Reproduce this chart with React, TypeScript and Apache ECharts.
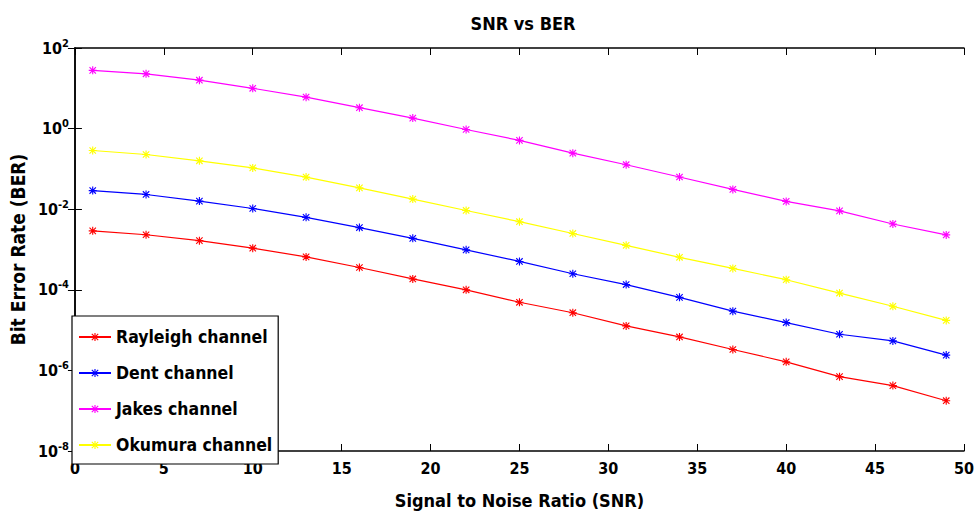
import React, { useEffect, useRef } from "react";
import * as echarts from "echarts";

const snr = [1, 4, 7, 10, 13, 16, 19, 22, 25, 28, 31, 34, 37, 40, 43, 46, 49];
const rayleigh = [0.0029, 0.00232, 0.00166, 0.00108, 0.000656, 0.000358, 0.000186, 0.0001, 4.9e-5, 2.7e-5, 1.27e-5, 6.76e-6, 3.3e-6, 1.63e-6, 7.0e-7, 4.2e-7, 1.77e-7];
const dent = [0.029, 0.0232, 0.0159, 0.0104, 0.00628, 0.0035, 0.00189, 0.00098, 0.000505, 0.00025, 0.000135, 6.5e-5, 2.95e-5, 1.54e-5, 7.9e-6, 5.4e-6, 2.4e-6];
const jakes = [27.9, 22.9, 15.9, 10, 6.03, 3.3, 1.82, 0.95, 0.51, 0.246, 0.127, 0.063, 0.031, 0.0156, 0.0091, 0.0043, 0.0023];
const okumura = [0.286, 0.228, 0.159, 0.106, 0.0628, 0.0338, 0.0178, 0.0093, 0.0049, 0.0025, 0.00127, 0.00064, 0.00034, 0.000178, 8.3e-5, 3.9e-5, 1.74e-5];
const seriesNames = ["Rayleigh channel", "Dent channel", "Jakes channel", "Okumura channel"];
const seriesColors = ["#ff0000", "#0000ff", "#ff00ff", "#ffff00"];
const xTicks = [0, 5, 10, 15, 20, 25, 30, 35, 40, 45, 50];

const FONT = '"DejaVu Sans Condensed", "Liberation Sans Narrow", sans-serif';
const STAR =
  "path://M4.3,0 L5.7,0 L5.7,10 L4.3,10 Z M0,4.3 L10,4.3 L10,5.7 L0,5.7 Z M1.5,0.5 L9.5,8.5 L8.5,9.5 L0.5,1.5 Z M8.5,0.5 L9.5,1.5 L1.5,9.5 L0.5,8.5 Z";

export default function App() {
  const ref = useRef<HTMLDivElement>(null);
  useEffect(() => {
    if (!ref.current) return;
    const chart = echarts.init(ref.current, null, { renderer: "svg" });
    const all = [rayleigh, dent, jakes, okumura];
    const tickStyle = { show: true, inside: true, length: 7, lineStyle: { color: "#000", width: 1 } };
    const lineStyle = { show: true, lineStyle: { color: "#000", width: 1.5 } };
    chart.setOption({
      animation: false,
      backgroundColor: "#fff",
      textStyle: { fontFamily: FONT, fontWeight: "bold", color: "#000" },
      title: {
        text: "SNR vs BER",
        left: 518,
        textAlign: "center",
        top: 9,
        textStyle: { fontFamily: FONT, fontWeight: "bold", fontSize: 18, color: "#000" },
      },
      grid: { left: 72, right: 15, top: 48, bottom: 57, containLabel: false },
      legend: {
        orient: "vertical",
        left: 72,
        top: 316,
        padding: [9, 6, 7, 6],
        itemGap: 12,
        itemWidth: 32,
        itemHeight: 10,
        backgroundColor: "#fff",
        borderColor: "#000",
        borderWidth: 1.2,
        data: seriesNames,
        textStyle: { fontFamily: FONT, fontWeight: "bold", fontSize: 17.5, color: "#000", lineHeight: 24 },
      },
      xAxis: [
        {
          type: "value",
          min: 0,
          max: 50,
          interval: 5,
          name: "Signal to Noise Ratio (SNR)",
          nameLocation: "middle",
          nameGap: 40,
          nameTextStyle: { fontFamily: FONT, fontWeight: "bold", fontSize: 18, color: "#000" },
          axisLine: lineStyle,
          axisTick: tickStyle,
          splitLine: { show: false },
          axisLabel: {
            fontFamily: FONT,
            fontWeight: "bold",
            fontSize: 16,
            color: "#000",
            margin: 9,
            formatter: (v: number) => (xTicks.includes(v) ? String(v) : ""),
          },
        },
        {
          type: "value",
          position: "top",
          min: 0,
          max: 50,
          interval: 5,
          axisLine: lineStyle,
          axisTick: tickStyle,
          axisLabel: { show: false },
          splitLine: { show: false },
        },
      ],
      yAxis: [
        {
          type: "log",
          logBase: 10,
          min: 1e-8,
          max: 1e2,
          interval: 2,
          name: "Bit Error Rate (BER)",
          nameLocation: "middle",
          nameGap: 44,
          nameTextStyle: { fontFamily: FONT, fontWeight: "bold", fontSize: 19, color: "#000" },
          axisLine: lineStyle,
          axisTick: tickStyle,
          splitLine: { show: false },
          minorTick: { show: false },
          axisLabel: {
            margin: 6,
            formatter: (v: number) => {
              const e = Math.round(Math.log10(v));
              if (e % 2 !== 0) return "";
              return "{b|10}{s|" + e + "}";
            },
            rich: {
              b: { fontFamily: FONT, fontWeight: "bold", fontSize: 16, color: "#000" },
              s: { fontFamily: FONT, fontWeight: "bold", fontSize: 11, color: "#000", padding: [0, 0, 10, 0] },
            },
          },
        },
        {
          type: "log",
          logBase: 10,
          min: 1e-8,
          max: 1e2,
          interval: 2,
          position: "right",
          axisLine: lineStyle,
          axisTick: tickStyle,
          axisLabel: { show: false },
          splitLine: { show: false },
        },
      ],
      series: all.map((arr, i) => ({
        name: seriesNames[i],
        type: "line",
        xAxisIndex: 0,
        yAxisIndex: 0,
        data: snr.map((x, j) => [x, arr[j]]),
        symbol: STAR,
        symbolSize: 8,
        showSymbol: true,
        itemStyle: { color: seriesColors[i] },
        lineStyle: { color: seriesColors[i], width: 1.2 },
        z: 2,
      })),
    });
    return () => chart.dispose();
  }, []);
  return <div ref={ref} style={{ width: 979, height: 514, position: "absolute", left: 0, top: 0 }} />;
}
